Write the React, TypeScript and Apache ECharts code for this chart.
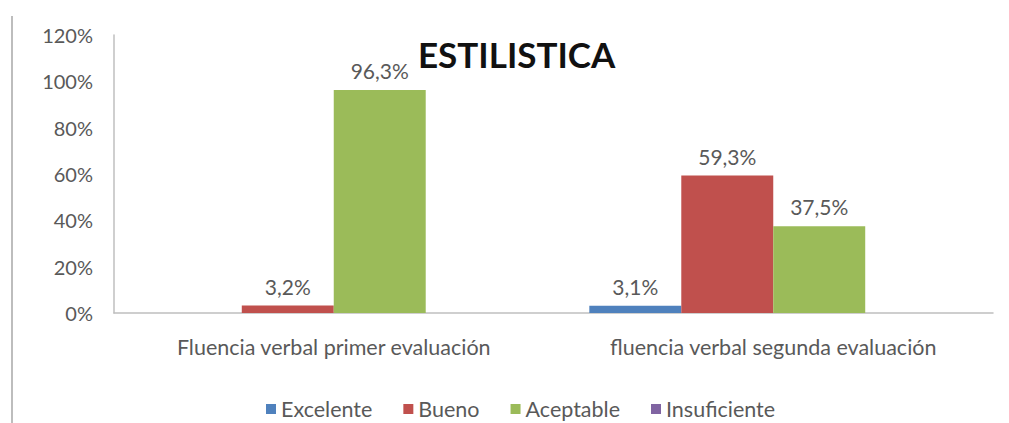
import React, { useEffect, useRef } from "react";
import * as echarts from "echarts";

const categories = ["Fluencia verbal primer evaluación", "fluencia verbal segunda evaluación"];
const seriesNames = ["Excelente", "Bueno", "Aceptable", "Insuficiente"];
const excelente = [0, 3.1];
const bueno = [3.2, 59.3];
const aceptable = [96.3, 37.5];
const insuficiente = [0, 0];
const colors = ["#4F81BD", "#C0504D", "#9BBB59", "#8064A2"];
const titleText = "ESTILISTICA";

export default function App() {
  const ref = useRef<HTMLDivElement>(null);
  useEffect(() => {
    if (!ref.current) return;
    const chart = echarts.init(ref.current, null, { renderer: "svg" });
    const font = "Lato, 'Liberation Sans', sans-serif";
    const values = [excelente, bueno, aceptable, insuficiente];
    chart.setOption({
      animation: false,
      backgroundColor: "#ffffff",
      title: {
        text: titleText,
        left: 413,
        top: 31,
        textStyle: { fontFamily: font, fontWeight: "bold", fontSize: 35, color: "#111" },
      },
      legend: {
        left: 261,
        top: 393,
        itemWidth: 10,
        itemHeight: 10,
        itemGap: 31,
        icon: "rect",
        textStyle: { fontFamily: font, fontSize: 21.5, color: "#595959" },
        data: seriesNames,
      },
      grid: { left: 114, right: 16, top: 35, bottom: 110, containLabel: false },
      xAxis: {
        type: "category",
        data: categories,
        axisLine: { lineStyle: { color: "#BFBFBF", width: 1.5 } },
        axisTick: { show: false },
        axisLabel: { fontFamily: font, fontSize: 21.5, color: "#595959", margin: 23 },
      },
      yAxis: {
        type: "value",
        min: 0,
        max: 120,
        interval: 20,
        axisLine: { show: true, lineStyle: { color: "#BFBFBF", width: 1.5 } },
        axisTick: { show: false },
        splitLine: { show: false },
        axisLabel: { fontFamily: font, fontSize: 20, color: "#595959", margin: 21, formatter: (v: number) => v + "%" },
      },
      graphic: [
        { type: "rect", left: 11, top: 16, shape: { width: 2, height: 420 }, style: { fill: "#BDBDBD" } },
      ],
      series: seriesNames.map((name, i) => ({
        name,
        type: "bar",
        data: values[i],
        barGap: "0%",
        barCategoryGap: "16.3%",
        itemStyle: { color: colors[i] },
        label: {
          show: true,
          position: "top",
          distance: 9,
          fontFamily: font,
          fontSize: 21,
          color: "#595959",
          formatter: (p: any) => (p.value > 0 ? String(p.value.toFixed(1)).replace(".", ",") + "%" : ""),
        },
      })),
    });
    return () => chart.dispose();
  }, []);
  return <div ref={ref} style={{ width: 1009, height: 423, position: "absolute", left: 0, top: 0 }} />;
}
